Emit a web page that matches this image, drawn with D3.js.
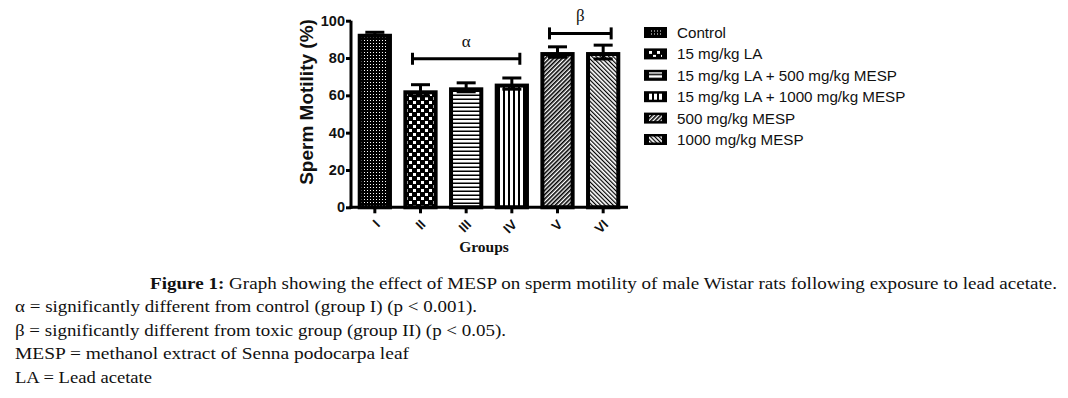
<!doctype html>
<html>
<head>
<meta charset="utf-8">
<title>sperm motility</title>
<script src="https://cdn.jsdelivr.net/npm/d3@7"></script>
<style>
  body { margin: 0; background: #fff; }
  .sans { font-family: "Liberation Sans", Arial, sans-serif; }
  .serif { font-family: "Liberation Serif", "DejaVu Serif", serif; }
  .cap { font-family: "Liberation Serif", "DejaVu Serif", serif; font-size: 17px; fill: #111; }
</style>
</head>
<body>
<svg id="chart"></svg>
<script>
// data
var groups = ["I", "II", "III", "IV", "V", "VI"];
var means = [93.0, 62.7, 64.3, 66.3, 83.2, 83.2];
var sems = [0.8, 3.0, 2.4, 3.0, 2.8, 3.7];
var treatments = ["Control", "15 mg/kg LA", "15 mg/kg LA + 500 mg/kg MESP",
  "15 mg/kg LA + 1000 mg/kg MESP", "500 mg/kg MESP", "1000 mg/kg MESP"];
var yTicks = [0, 20, 40, 60, 80, 100];
var brackets = [
  {from: "II", to: "IV", level: 79.6, sym: "\u03b1"},
  {from: "V", to: "VI", level: 93.2, sym: "\u03b2"}
];
var captionLines = [
  {bold: "Figure 1:", text: " Graph showing the effect of MESP on sperm motility of male Wistar rats following exposure to lead acetate."},
  {bold: "", text: "\u03b1 = significantly different from control (group I) (p < 0.001)."},
  {bold: "", text: "\u03b2 = significantly different from toxic group (group II) (p < 0.05)."},
  {bold: "", text: "MESP = methanol extract of Senna podocarpa leaf"},
  {bold: "", text: "LA = Lead acetate"}
];

var W = 1068, H = 398;
var svg = d3.select('#chart').attr('width', W).attr('height', H);
svg.append('rect').attr('width', W).attr('height', H).attr('fill', '#fff');

// fill patterns, one per group
var defs = svg.append('defs');
var pats = ['pDots', 'pCheck', 'pHoriz', 'pVert', 'pDiagA', 'pDiagB'];

var p = defs.append('pattern').attr('id', 'pDots').attr('patternUnits', 'userSpaceOnUse')
  .attr('width', 3).attr('height', 3);
p.append('rect').attr('width', 3).attr('height', 3).attr('fill', '#000');
p.append('rect').attr('x', 1).attr('y', 1).attr('width', 1).attr('height', 1).attr('fill', '#fff');

p = defs.append('pattern').attr('id', 'pCheck').attr('patternUnits', 'userSpaceOnUse')
  .attr('width', 8).attr('height', 8);
p.append('rect').attr('width', 8).attr('height', 8).attr('fill', '#000');
p.append('rect').attr('x', 1).attr('y', 1).attr('width', 3).attr('height', 3).attr('fill', '#fff');
p.append('rect').attr('x', 5).attr('y', 5).attr('width', 3).attr('height', 3).attr('fill', '#fff');

p = defs.append('pattern').attr('id', 'pHoriz').attr('patternUnits', 'userSpaceOnUse')
  .attr('width', 4).attr('height', 4);
p.append('rect').attr('width', 4).attr('height', 4).attr('fill', '#fff');
p.append('rect').attr('y', 2.5).attr('width', 4).attr('height', 1.5).attr('fill', '#000');

p = defs.append('pattern').attr('id', 'pVert').attr('patternUnits', 'userSpaceOnUse')
  .attr('width', 5).attr('height', 5);
p.append('rect').attr('width', 5).attr('height', 5).attr('fill', '#fff');
p.append('rect').attr('x', 3).attr('width', 2).attr('height', 5).attr('fill', '#000');

p = defs.append('pattern').attr('id', 'pDiagA').attr('patternUnits', 'userSpaceOnUse')
  .attr('width', 3).attr('height', 3).attr('patternTransform', 'rotate(45)');
p.append('rect').attr('width', 3).attr('height', 3).attr('fill', '#fff');
p.append('rect').attr('width', 1.6).attr('height', 3).attr('fill', '#000');

p = defs.append('pattern').attr('id', 'pDiagB').attr('patternUnits', 'userSpaceOnUse')
  .attr('width', 3).attr('height', 3).attr('patternTransform', 'rotate(-45)');
p.append('rect').attr('width', 3).attr('height', 3).attr('fill', '#fff');
p.append('rect').attr('width', 1.2).attr('height', 3).attr('fill', '#000');

// scales
var x = d3.scaleBand().domain(groups).range([352, 626]).paddingInner(0.25).paddingOuter(0.125);
var y = d3.scaleLinear().domain([0, 100]).range([207.3, 20.7]);

var rows = groups.map(function(g, i) {
  return {g: g, m: means[i], s: sems[i], pat: pats[i]};
});

// bars
svg.selectAll('rect.bar').data(rows).enter().append('rect')
  .attr('class', 'bar')
  .attr('x', function(d) { return x(d.g) + 2; })
  .attr('y', function(d) { return y(d.m) + 2; })
  .attr('width', x.bandwidth() - 4)
  .attr('height', function(d) { return y(0) - y(d.m) - 2; })
  .attr('fill', function(d) { return 'url(#' + d.pat + ')'; })
  .attr('stroke', '#000').attr('stroke-width', 4);

// error bars
var eb = svg.selectAll('g.err').data(rows).enter().append('g').attr('class', 'err')
  .attr('stroke', '#000').attr('stroke-width', 3);
eb.append('line')
  .attr('x1', function(d) { return x(d.g) + x.bandwidth() / 2; })
  .attr('x2', function(d) { return x(d.g) + x.bandwidth() / 2; })
  .attr('y1', function(d) { return y(d.m - d.s); })
  .attr('y2', function(d) { return y(d.m + d.s); });
[1, -1].forEach(function(sign) {
  eb.append('line')
    .attr('x1', function(d) { return x(d.g) + x.bandwidth() / 2 - 9.5; })
    .attr('x2', function(d) { return x(d.g) + x.bandwidth() / 2 + 9.5; })
    .attr('y1', function(d) { return y(d.m + sign * d.s); })
    .attr('y2', function(d) { return y(d.m + sign * d.s); });
});

// axes
var yAxis = svg.append('g').attr('transform', 'translate(351,0)')
  .call(d3.axisLeft(y).tickValues(yTicks).tickSize(5).tickSizeOuter(0).tickPadding(1));
yAxis.select('.domain').attr('stroke-width', 3).attr('d', 'M0,' + y(100) + 'V' + (y(0) + 1.5));
yAxis.selectAll('.tick line').attr('stroke-width', 3);
yAxis.selectAll('.tick text').attr('class', 'sans')
  .attr('font-size', 14.5).attr('font-weight', 'bold').attr('fill', '#111');

var xAxis = svg.append('g').attr('transform', 'translate(0,' + y(0) + ')')
  .call(d3.axisBottom(x).tickSize(6).tickSizeOuter(0));
xAxis.select('.domain').attr('stroke-width', 3).attr('d', 'M349.5,0H628');
xAxis.selectAll('.tick line').attr('stroke-width', 3);
xAxis.selectAll('.tick text').attr('class', 'sans')
  .attr('font-size', 13.5).attr('font-weight', 'bold').attr('fill', '#111')
  .attr('text-anchor', 'end')
  .attr('y', 0).attr('dy', 0)
  .attr('transform', 'translate(6,18) rotate(-45)');

svg.append('text').attr('class', 'sans')
  .attr('transform', 'translate(313,102) rotate(-90)')
  .attr('text-anchor', 'middle')
  .attr('font-size', 19).attr('font-weight', 'bold').attr('fill', '#111')
  .text('Sperm Motility (%)');

svg.append('text').attr('class', 'serif')
  .attr('x', 484).attr('y', 252)
  .attr('text-anchor', 'middle')
  .attr('font-size', 15.5).attr('font-weight', 'bold').attr('fill', '#111')
  .text('Groups');

// significance brackets
brackets.forEach(function(b) {
  var x1 = x(b.from) + x.bandwidth() / 2 - 8;
  var x2 = x(b.to) + x.bandwidth() / 2 + 8;
  var yy = y(b.level);
  var g = svg.append('g').attr('stroke', '#000').attr('stroke-width', 3);
  g.append('line').attr('x1', x1).attr('x2', x2).attr('y1', yy).attr('y2', yy);
  g.append('line').attr('x1', x1).attr('x2', x1).attr('y1', yy - 6).attr('y2', yy + 6);
  g.append('line').attr('x1', x2).attr('x2', x2).attr('y1', yy - 6).attr('y2', yy + 6);
  svg.append('text').attr('class', 'serif')
    .attr('x', (x1 + x2) / 2).attr('y', yy - 12)
    .attr('text-anchor', 'middle')
    .attr('font-size', 17).attr('fill', '#111')
    .text(b.sym);
});

// legend
var lg = svg.selectAll('g.leg').data(rows).enter().append('g').attr('class', 'leg')
  .attr('transform', function(d, i) { return 'translate(644,' + (32.5 + i * 21.4) + ')'; });
lg.append('rect').attr('x', 0).attr('y', -5.5).attr('width', 23).attr('height', 11).attr('fill', '#000');
lg.append('rect').attr('x', 5).attr('y', -3).attr('width', 13).attr('height', 6)
  .attr('fill', function(d) { return 'url(#' + d.pat + ')'; });
lg.append('text').attr('class', 'sans')
  .attr('x', 33).attr('y', 5.5)
  .attr('font-size', 15.2).attr('fill', '#111')
  .text(function(d, i) { return treatments[i]; });

// caption
var capX = [150, 15, 15, 15, 15];
var capY = [289, 312, 335.5, 359, 382.5];
var capW = [907, 462, 491, 394, 137];
captionLines.forEach(function(c, i) {
  var t = svg.append('text').attr('class', 'cap')
    .attr('x', capX[i]).attr('y', capY[i])
    .attr('textLength', capW[i]).attr('lengthAdjust', 'spacingAndGlyphs');
  if (c.bold) t.append('tspan').attr('font-weight', 'bold').text(c.bold);
  t.append('tspan').text(c.text);
});
</script>
</body>
</html>
